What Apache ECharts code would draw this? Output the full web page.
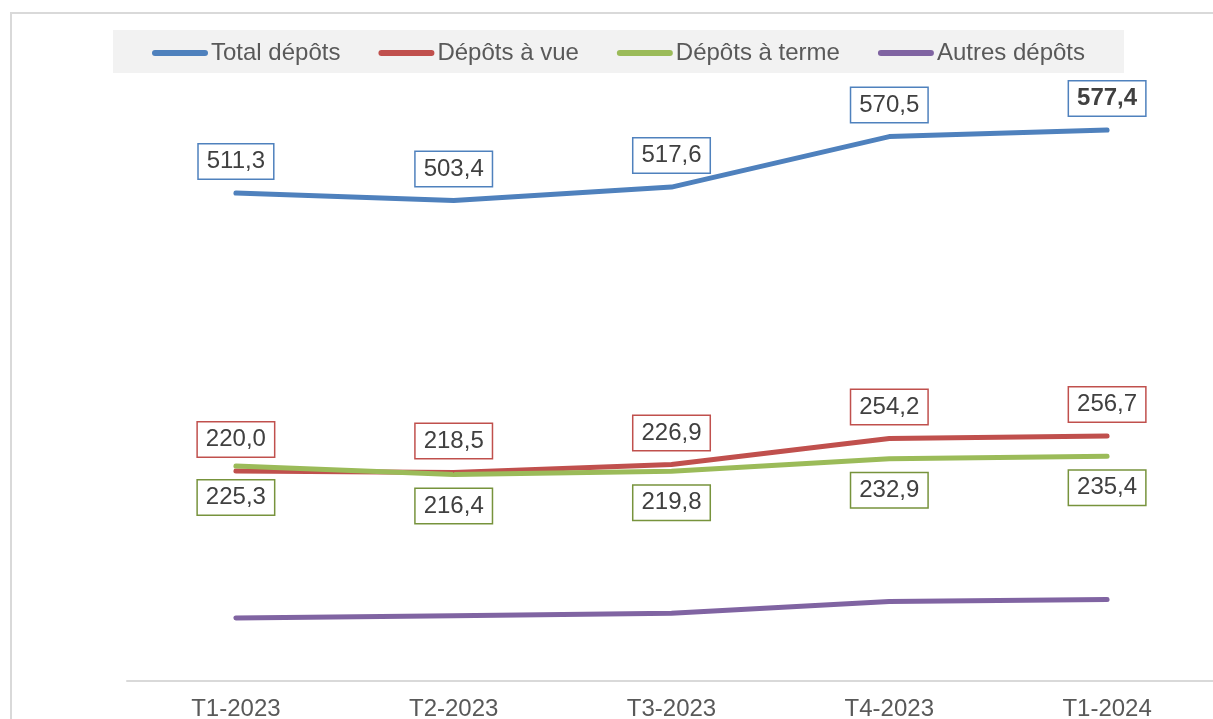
<!DOCTYPE html>
<html>
<head>
<meta charset="utf-8">
<script src="https://cdn.jsdelivr.net/npm/echarts@6/dist/echarts.min.js"></script>
<style>
  html, body { margin: 0; padding: 0; background: #fff; }
  #main { width: 1213px; height: 719px; }
</style>
</head>
<body>
<div id="main"></div>
<script>
// données
const categories = ['T1-2023', 'T2-2023', 'T3-2023', 'T4-2023', 'T1-2024'];
const totalDepots = [511.3, 503.4, 517.6, 570.5, 577.4];
const depotsVue = [220.0, 218.5, 226.9, 254.2, 256.7];
const depotsTerme = [225.3, 216.4, 219.8, 232.9, 235.4];
const autresDepots = [66.0, 68.5, 70.9, 83.4, 85.3];

const FONT = 'Liberation Sans, Arial, sans-serif';
const fmt = v => v.toFixed(1).replace('.', ',');

// étiquette encadrée
const boxLabel = (pos, border) => ({
  show: true,
  position: pos,
  distance: 14,
  formatter: p => fmt(p.value),
  color: '#404040',
  fontFamily: FONT,
  fontSize: 24,
  lineHeight: 24,
  backgroundColor: '#fff',
  borderColor: border,
  borderWidth: 1.5,
  padding: [5, 8, 5, 8]
});

const makeSeries = (name, data, color, label) => ({
  name: name,
  type: 'line',
  data: data,
  symbol: 'circle',
  symbolSize: 1,
  itemStyle: { color: color },
  lineStyle: { color: color, width: 5, cap: 'round', join: 'round' },
  label: label || { show: false },
  emphasis: { disabled: true },
  silent: true,
  z: 3
});

const totalData = totalDepots.map((v, i) =>
  i === totalDepots.length - 1 ? { value: v, label: { fontWeight: 'bold' } } : v
);

const chart = echarts.init(document.getElementById('main'));

chart.setOption({
  animation: false,
  backgroundColor: '#fff',
  graphic: [
    {
      type: 'rect',
      shape: { x: 11, y: 13, width: 1230, height: 740 },
      style: { fill: 'none', stroke: '#d9d9d9', lineWidth: 2 },
      z: 0
    },
    {
      type: 'rect',
      shape: { x: 113, y: 30, width: 1011, height: 43 },
      style: { fill: '#f2f2f2' },
      z: 0
    }
  ],
  legend: {
    left: 147,
    top: 35,
    itemWidth: 56,
    itemHeight: 6,
    itemGap: 38,
    icon: 'path://M3,0 L53,0 A3,3 0 0 1 53,6 L3,6 A3,3 0 0 1 3,0 Z',
    textStyle: { color: '#595959', fontFamily: FONT, fontSize: 24, lineHeight: 26, padding: [0, 0, 0, -2] },
    data: ['Total dépôts', 'Dépôts à vue', 'Dépôts à terme', 'Autres dépôts'],
    selectedMode: false
  },
  grid: { left: 127, width: 1089, top: 13, bottom: 38, containLabel: false, outerBoundsMode: 'none' },
  xAxis: {
    type: 'category',
    data: categories,
    boundaryGap: true,
    axisLine: { lineStyle: { color: '#d9d9d9', width: 2 } },
    axisTick: { show: false },
    axisLabel: { color: '#595959', fontFamily: FONT, fontSize: 24, margin: 16 }
  },
  yAxis: {
    type: 'value',
    min: 0,
    max: 700,
    show: false,
    splitLine: { show: false }
  },
  series: [
    makeSeries('Total dépôts', totalData, '#4f81bd', boxLabel('top', '#4f81bd')),
    makeSeries('Dépôts à vue', depotsVue, '#c0504d', boxLabel('top', '#c0504d')),
    makeSeries('Dépôts à terme', depotsTerme, '#9bbb59', boxLabel('bottom', '#77933c')),
    makeSeries('Autres dépôts', autresDepots, '#8064a2')
  ]
});
</script>
</body>
</html>
